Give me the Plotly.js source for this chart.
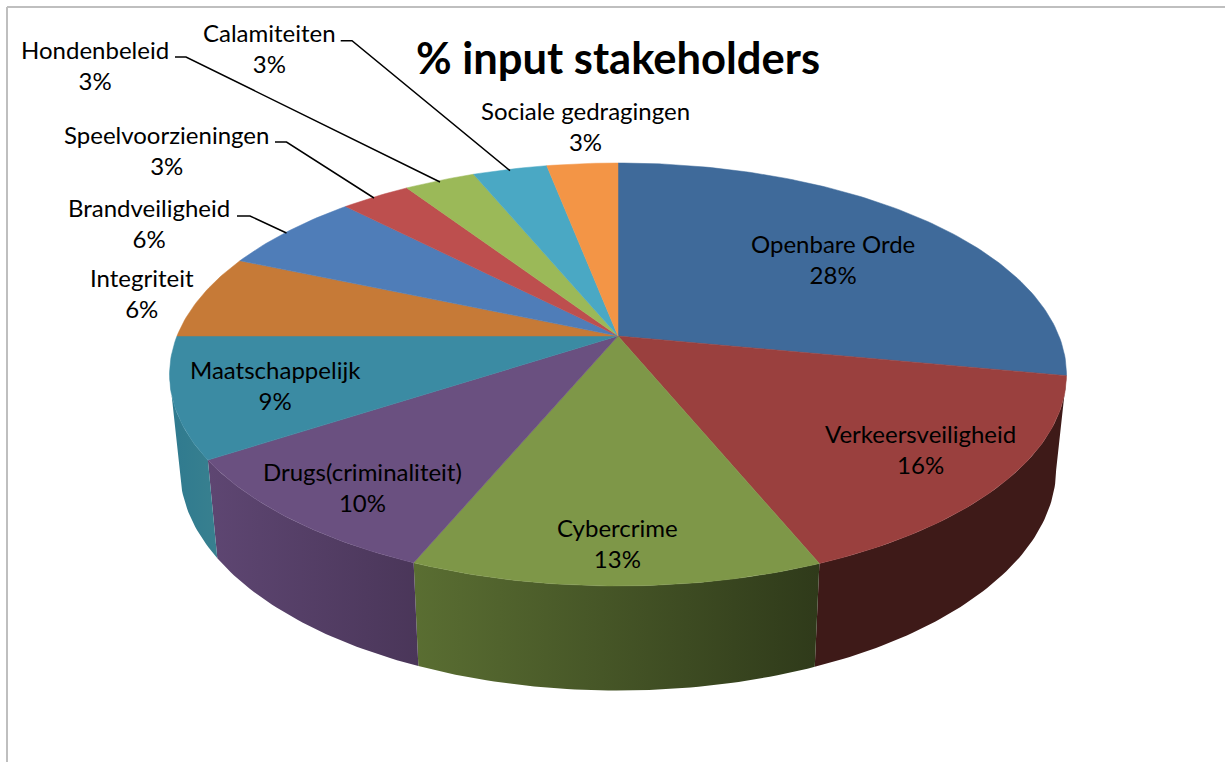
<!DOCTYPE html>
<html>
<head>
<meta charset="utf-8">
<script src="https://cdn.plot.ly/plotly-3.0.1.min.js"></script>
<style>html,body{margin:0;padding:0;background:#fff;overflow:hidden}</style>
</head>
<body>
<div id="chart" style="width:1225px;height:762px"></div>
<script>
// ---- data ----
const categories = ["Openbare Orde","Verkeersveiligheid","Cybercrime","Drugs(criminaliteit)","Maatschappelijk","Integriteit","Brandveiligheid","Speelvoorzieningen","Hondenbeleid","Calamiteiten","Sociale gedragingen"];
const shares = [28,15.8,12.5,9.5,9.2,6.45,6.25,3,3.05,3.2,3.05];
const chartTitle = "% input stakeholders";

// ---- styles ----
const topColors = ["#3f6a9a","#9a403e","#7e9748","#6a5080","#3b8ba3","#c67a37","#4f7db8","#bd4f4e","#9bb958","#4aa8c4","#f39546"];
const wallColors = [null,["#3e1a18","#3e1a18"],["#5a6e32","#2f3a1a"],["#5e4672","#4a3659"],["#2f7a8f","#38808f"],null,null,null,null,null,null];
const labelCenters = [[833,259],[920,449],[617,543],[362,487],[275,385],[142,293],[149,223],[166,150],[95,65],[269,48],[585,126]];
const leaders = [
  [[340.7,40.7],[352,40.7],[510,170.7]],
  [[175,57],[186,57],[440,182]],
  [[275,142],[286.5,142],[374,198]],
  [[237,216],[250,216],[286.5,233]]
];
const FONT = "Lato, Carlito, Calibri, sans-serif";
const SILHOUETTE_PCT = 72; // where the left edge of the disc turns away from the viewer

// ---- perspective geometry of the disc ----
const CX = 618, CY = 336, B = 441, A = 204.5, K = 0.182;
function topPoint(pct){
  const t = pct/100*2*Math.PI, u = Math.sin(t), v = -Math.cos(t), d = 1-K*v;
  return [CX+B*u/d, CY+A*v/d];
}
function bottomPoint(pct){
  const p = topPoint(pct);
  return [CX+0.977*(p[0]-CX), CY+1.05*(p[1]-CY)+92];
}
function arc(fn,a,b){
  const n = Math.max(2,Math.ceil(Math.abs(b-a)*4)), out=[];
  for(let i=0;i<=n;i++) out.push(fn(a+(b-a)*i/n));
  return out;
}

const wallTraces=[], topTraces=[];
let cum=0;
shares.forEach((s,i)=>{
  const a=cum,b=cum+s; cum=b;
  const topArc=arc(topPoint,a,b);
  if(wallColors[i]){
    const e=Math.min(b,SILHOUETTE_PCT);
    const poly=arc(topPoint,a,e).concat(arc(bottomPoint,e,a));
    wallTraces.push({type:"scatter",mode:"lines",x:poly.map(p=>p[0]),y:poly.map(p=>p[1]),
      line:{width:0},fill:"toself",hoverinfo:"skip",showlegend:false,
      fillgradient:{type:"horizontal",colorscale:[[0,wallColors[i][0]],[1,wallColors[i][1]]]}});
  }
  const poly=[[CX,CY]].concat(topArc);
  poly.push([CX,CY]);
  topTraces.push({type:"scatter",mode:"lines",x:poly.map(p=>p[0]),y:poly.map(p=>p[1]),
    line:{width:0.5,color:topColors[i]},fill:"toself",fillcolor:topColors[i],
    name:categories[i],hoverinfo:"name",showlegend:false});
});
const leaderTraces=leaders.map(l=>({type:"scatter",mode:"lines",x:l.map(p=>p[0]),y:l.map(p=>p[1]),
  line:{width:1.5,color:"#000"},hoverinfo:"skip",showlegend:false}));

const annotations=categories.map((c,i)=>({
  x:labelCenters[i][0],y:labelCenters[i][1],xref:"x",yref:"y",xanchor:"center",yanchor:"middle",
  showarrow:false,align:"center",text:c+"<br>"+Math.round(shares[i])+"%",
  font:{family:FONT,size:24,color:"#000"}
}));
annotations.push({x:618,y:57,xref:"x",yref:"y",xanchor:"center",yanchor:"middle",showarrow:false,
  text:"<b>"+chartTitle+"</b>",font:{family:FONT,size:43.5,color:"#000"}});

const layout={
  width:1225,height:762,margin:{l:0,r:0,t:0,b:0},paper_bgcolor:"#fff",plot_bgcolor:"#fff",
  xaxis:{range:[0,1225],visible:false,fixedrange:true},
  yaxis:{range:[762,0],visible:false,fixedrange:true},
  showlegend:false,annotations:annotations,
  shapes:[
    {type:"line",xref:"x",yref:"y",x0:7,x1:1225,y0:7,y1:7,line:{color:"#bfbfbf",width:2}},
    {type:"line",xref:"x",yref:"y",x0:7,x1:7,y0:7,y1:762,line:{color:"#bfbfbf",width:2}}
  ]
};
Plotly.newPlot("chart",wallTraces.concat(topTraces,leaderTraces),layout,{displayModeBar:false,staticPlot:true});
</script>
</body>
</html>
